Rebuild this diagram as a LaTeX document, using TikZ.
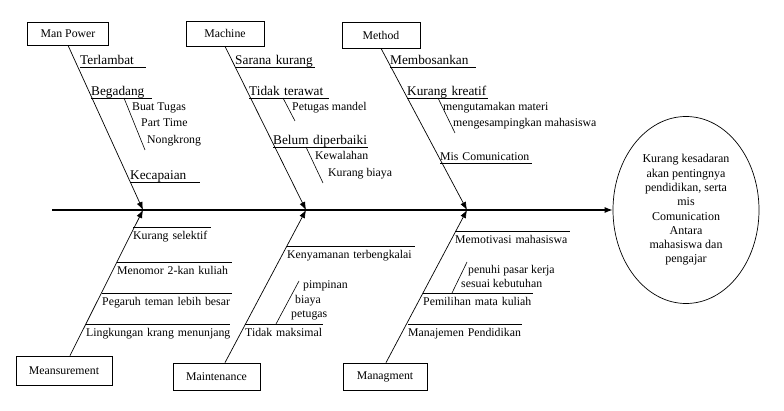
\documentclass[tikz,border=0pt]{standalone}
\usepackage{fontspec}
\setmainfont{Liberation Serif}
\usetikzlibrary{arrows.meta,positioning,shapes.geometric}
\tikzset{
  catbox/.style ={draw,rectangle,align=center,inner sep=0pt,line width=0.7pt,font=\fontsize{11.8}{13}\selectfont},
  effect/.style ={draw,ellipse,align=center,inner sep=0pt,minimum width=146pt,minimum height=187pt,
                  line width=0.7pt,font=\fontsize{12}{14.3}\selectfont},
  spine/.style  ={-{Latex[length=8pt,width=6pt]},line width=1.1pt},
  bone/.style   ={-{Latex[length=8pt,width=6pt]},line width=0.7pt},
  twig/.style   ={line width=0.6pt},
  cause/.style  ={anchor=south west,align=left,inner xsep=0pt,inner ysep=0.5pt,text depth=2pt,
                  font=\fontsize{13.3}{15}\selectfont},
  causel/.style ={cause,font=\fontsize{11.8}{13}\selectfont},
  causeb/.style ={anchor=north west,align=left,inner xsep=0pt,inner ysep=3pt,text height=9pt,
                  font=\fontsize{11.8}{13}\selectfont},
  sub/.style    ={anchor=base west,inner sep=0pt,font=\fontsize{11.8}{13}\selectfont}
}
\begin{document}
\begin{tikzpicture}[x=1pt,y=-1pt]
    \useasboundingbox (0,0) rectangle (784,411);
    % head and spine
    \node[effect] (effect) at (686,210) {Kurang kesadaran\\akan pentingnya\\pendidikan, serta\\mis\\Comunication\\Antara\\mahasiswa dan\\pengajar};
    \coordinate (tail) at (52,210);
    \coordinate (j1) at (143,210);
    \coordinate (j2) at (306,210);
    \coordinate (j3) at (467,210);
    \draw[spine] (tail) -- (effect.west);

    % categories
    \node[catbox,minimum width=81pt,minimum height=23pt] (manpower) at (68,33.5)    {Man Power};
    \node[catbox,minimum width=78pt,minimum height=25pt] (machine)  at (225,33.5)   {Machine};
    \node[catbox,minimum width=78pt,minimum height=26pt] (method)   at (381,35)     {Method};
    \node[catbox,minimum width=96pt,minimum height=29pt] (measure)  at (64,370.5)   {Meansurement};
    \node[catbox,minimum width=87pt,minimum height=27pt] (maint)    at (216.5,376.5){Maintenance};
    \node[catbox,minimum width=84pt,minimum height=27pt] (manag)    at (385,376.5)  {Managment};
    \draw[bone] (manpower.south) -- (j1);
    \draw[bone] (machine.south)  -- (j2);
    \draw[bone] (method.south)   -- (j3);
    \draw[bone] ([xshift=6pt]measure.north) -- (j1);
    \draw[bone] ([xshift=8.5pt]maint.north) -- (j2);
    \draw[bone] ([xshift=1pt]manag.north)   -- (j3);

    % man power
    \node[cause,text width=66pt] (terlambat) at (80,67)  {Terlambat};
    \node[cause,text width=61pt] (begadang)  at (91,98)  {Begadang};
    \node[cause,text width=70pt] (kecapaian) at (130,182){Kecapaian};
    \draw (terlambat.south west) -- (terlambat.south east);
    \draw (begadang.south west)  -- (begadang.south east);
    \draw (kecapaian.south west) -- (kecapaian.south east);
    \coordinate (bg1) at (124,98);
    \coordinate (bg2) at (145,150);
    \draw[twig] (bg1) -- (bg2);
    \node[sub] (tugas)     at (132,110.7) {Buat Tugas};
    \node[sub] (parttime)  at (141,126.7) {Part Time};
    \node[sub] (nongkrong) at (147,144)   {Nongkrong};

    % machine
    \node[cause,text width=80pt] (sarana)  at (235,67)  {Sarana kurang};
    \node[cause,text width=80pt] (terawat) at (249,98)  {Tidak terawat};
    \node[cause,text width=95pt] (belum)   at (273,147) {Belum diperbaiki};
    \draw (sarana.south west)  -- (sarana.south east);
    \draw (terawat.south west) -- (terawat.south east);
    \draw (belum.south west)   -- (belum.south east);
    \coordinate (tt1) at (283,98);
    \coordinate (tt2) at (295,121);
    \draw[twig] (tt1) -- (tt2);
    \coordinate (bd1) at (306,147);
    \coordinate (bd2) at (323,183);
    \draw[twig] (bd1) -- (bd2);
    \node[sub] (mandel)    at (292,110.7) {Petugas mandel};
    \node[sub] (kewalahan) at (315,159.5) {Kewalahan};
    \node[sub] (biayakrg)  at (328,176.7) {Kurang biaya};

    % method
    \node[cause,text width=86pt]  (bosan)   at (390,67)  {Membosankan};
    \node[cause,text width=81pt]  (kreatif) at (407,98)  {Kurang kreatif};
    \node[causel,text width=92pt] (miscom)  at (440,163) {Mis Comunication};
    \draw (bosan.south west)   -- (bosan.south east);
    \draw (kreatif.south west) -- (kreatif.south east);
    \draw (miscom.south west)  -- (miscom.south east);
    \coordinate (kk1) at (438,98);
    \coordinate (kk2) at (455,133);
    \draw[twig] (kk1) -- (kk2);
    \node[sub] (materi)  at (443,110.7) {mengutamakan materi};
    \node[sub] (samping) at (453,126.7) {mengesampingkan mahasiswa};

    % measurement
    \node[causeb,text width=78pt]  (selektif)   at (133,227) {Kurang selektif};
    \node[causeb,text width=115pt] (menomor)    at (117,262) {Menomor 2-kan kuliah};
    \node[causeb,text width=130pt] (pegaruh)    at (102,293) {Pegaruh teman lebih besar};
    \node[causeb,text width=144pt] (lingkungan) at (86,324)  {\mbox{Lingkungan krang menunjang}};
    \draw (selektif.north west)   -- (selektif.north east);
    \draw (menomor.north west)    -- (menomor.north east);
    \draw (pegaruh.north west)    -- (pegaruh.north east);
    \draw (lingkungan.north west) -- (lingkungan.north east);

    % maintenance
    \node[causeb,text width=128pt] (nyaman)  at (287,246) {Kenyamanan terbengkalai};
    \node[causeb,text width=78pt]  (maksimal) at (245,324) {Tidak maksimal};
    \draw (nyaman.north west)   -- (nyaman.north east);
    \draw (maksimal.north west) -- (maksimal.north east);
    \coordinate (tm1) at (276,324);
    \coordinate (tm2) at (299,281);
    \draw[twig] (tm1) -- (tm2);
    \node[sub] (pimpinan) at (303,289) {pimpinan};
    \node[sub] (biaya)    at (295,304) {biaya};
    \node[sub] (petugas)  at (291,318) {petugas};

    % managment
    \node[causeb,text width=115pt] (motivasi)  at (455,231) {Memotivasi mahasiswa};
    \node[causeb,text width=110pt] (pemilihan) at (423,293) {Pemilihan mata kuliah};
    \node[causeb,text width=114pt] (manajemen) at (408,324) {Manajemen Pendidikan};
    \draw (motivasi.north west)  -- (motivasi.north east);
    \draw (pemilihan.north west) -- (pemilihan.north east);
    \draw (manajemen.north west) -- (manajemen.north east);
    \coordinate (pm1) at (452,293);
    \coordinate (pm2) at (467,262);
    \draw[twig] (pm1) -- (pm2);
    \node[sub] (pasar)  at (468,274) {penuhi pasar kerja};
    \node[sub] (sesuai) at (461,288) {sesuai kebutuhan};
  \end{tikzpicture}
\end{document}
